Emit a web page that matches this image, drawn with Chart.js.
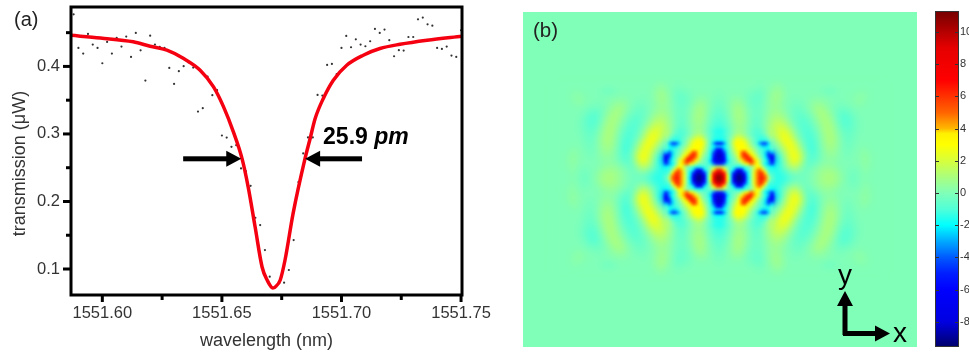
<!DOCTYPE html>
<html>
<head>
<meta charset="utf-8">
<title>transmission</title>
<script src="https://cdn.jsdelivr.net/npm/chart.js@4"></script>
<style>
html, body { margin: 0; padding: 0; background: #fff; overflow: hidden; }
#stage { position: relative; width: 969px; height: 354px; overflow: hidden; }
canvas { position: absolute; display: block; }
#chartA { left: 0; top: 0; }
#panel { position: absolute; left: 523px; top: 12px; width: 394px; height: 335px; background: #80ffb8; overflow: hidden; }
#fieldOuter { left: 0; top: 0; filter: blur(3px); }
#fieldCore { left: 0; top: 0; filter: blur(1.5px); }
#chartBar { left: 500px; top: 0; }
</style>
</head>
<body>
<div id="stage">
  <canvas id="chartA" width="500" height="354"></canvas>
  <div id="panel">
    <canvas id="fieldOuter" width="394" height="335"></canvas>
    <canvas id="fieldCore" width="394" height="335"></canvas>
  </div>
  <canvas id="chartBar" width="469" height="354"></canvas>
</div>
<script>
// panel (a): measured points, one every 2 pm
var wavelengths = [
  1551.588, 1551.590, 1551.592, 1551.594, 1551.596, 1551.598, 1551.600, 1551.602, 1551.604, 1551.606,
  1551.608, 1551.610, 1551.612, 1551.614, 1551.616, 1551.618, 1551.620, 1551.622, 1551.624, 1551.626,
  1551.628, 1551.630, 1551.632, 1551.634, 1551.636, 1551.638, 1551.640, 1551.642, 1551.644, 1551.646,
  1551.648, 1551.650, 1551.652, 1551.654, 1551.656, 1551.658, 1551.660, 1551.662, 1551.664, 1551.666,
  1551.668, 1551.670, 1551.672, 1551.674, 1551.676, 1551.678, 1551.680, 1551.682, 1551.684, 1551.686,
  1551.688, 1551.690, 1551.692, 1551.694, 1551.696, 1551.698, 1551.700, 1551.702, 1551.704, 1551.706,
  1551.708, 1551.710, 1551.712, 1551.714, 1551.716, 1551.718, 1551.720, 1551.722, 1551.724, 1551.726,
  1551.728, 1551.730, 1551.732, 1551.734, 1551.736, 1551.738, 1551.740, 1551.742, 1551.744, 1551.746,
  1551.748, 1551.750
];
var measured = [
  .4772, .4274, .4190, .4481, .4323, .4274, .4047, .4363, .4190, .4422,
  .4294, .4442, .4141, .4496, .4239, .3791, .4456, .4323, .4289, .4274,
  .3978, .3741, .3929, .4003, .4060, .3983, .3332, .3381, .3850, .3574,
  .3648, .2977, .2947, .2809, .2834, .2489, .2449, .2232, .1759, .1651,
  .1281, .0886, .0719, .0793, .0797, .0985, .1429, .2287, .2712, .2948,
  .2948, .3578, .3569, .4022, .4037, .3885, .4274, .4451, .4284, .4402,
  .4324, .4299, .4373, .4555, .4496, .4546, .4388, .4151, .4240, .4235,
  .4436, .4436, .4698, .4723, .4624, .4604, .4274, .4259, .4294, .4161,
  .4141, .4536
];

// panel (a): fitted curve
var fitWavelengths = [
  1551.5866, 1551.5992, 1551.6129, 1551.6200, 1551.6270, 1551.6340, 1551.6409, 1551.6465, 1551.6507, 1551.6548,
  1551.6584, 1551.6610, 1551.6639, 1551.6668, 1551.6689, 1551.6713, 1551.6723, 1551.6744, 1551.6764, 1551.6798,
  1551.6848, 1551.6869, 1551.6890, 1551.6924, 1551.6966, 1551.7022, 1551.7091, 1551.7161, 1551.7245, 1551.7358,
  1551.7504
];
var fitValues = [
  .4462, .4420, .4365, .4299, .4240, .4117, .3944, .3697, .3401, .3031,
  .2638, .2213, .1621, .1030, .0837, .0719, .0734, .0837, .1133, .1828,
  .2642, .2933, .3229, .3525, .3796, .4018, .4166, .4265, .4328, .4388,
  .4447
];

var xTickValues = [1551.60, 1551.625, 1551.65, 1551.675, 1551.70, 1551.725, 1551.75];
var yTickValues = [0.1, 0.15, 0.2, 0.25, 0.3, 0.35, 0.4, 0.45];
var barTickValues = [-8, -6, -4, -2, 0, 2, 4, 6, 8, 10];
var barRange = [-9.5, 11.24];

// panel (b): one quadrant of the field, the pattern mirrors about both axes.
// outer grid: columns every 6 units from 0 to 168, rows every 6 units from 0 to 96
var outerRows = [
  [11,8,-1.5,-8.5,-8.5,-2.5,2.5,6.5,5,-.8,-1.5,-1.5,-1,-.6,-.4,-.2,.1,.5,.9,1,.8,.3,-.1,-.4,-.1,.1,0,0,0],
  [9.5,7,-1.5,-8,-8,-2,2.5,6,3,-1.3,-1.5,-1.2,-.5,.2,-.2,-.3,.1,.5,.8,.9,.7,.2,-.1,-.3,-.1,.2,0,0,0],
  [1.5,1,-.8,-2,-2,-.8,1.5,3,-1,-2,-1.5,-.5,.8,1.5,.5,-.5,-.2,.2,.5,.5,.3,0,0,-.1,0,.3,.1,0,0],
  [-8,-6.5,-1,.3,3,6,4.5,1.5,-1.5,-5.5,-2,-.3,1.5,2.8,1.5,-.5,-.8,-.3,.2,.3,.2,0,0,0,.1,.4,.1,0,0],
  [-8.5,-5.5,-.5,1.5,5.5,5.5,2.5,-.2,-2.5,-5,-1.5,.2,2,3,1.8,-.3,-1,-.5,.2,.5,.4,0,-.2,0,.1,.4,.1,0,0],
  [-7,-4,0,2.5,3,2.5,.8,-.8,-1.5,-1,-.3,1,2.5,2.5,1,-.6,-1.2,-.5,.3,.8,.5,0,-.3,-.1,.1,.2,0,0,0],
  [-6,-3.5,.3,3,3,1.5,-.3,-3,-4.5,-.2,.3,2,3,2,.3,-.8,-1.2,-.4,.5,1,.7,0,-.4,-.2,0,0,0,0,0],
  [-1.5,-1.3,0,1.8,1.8,.5,-.6,-1.2,-.8,.8,1.5,2.8,2.5,1,-.3,-1,-1,-.3,.6,1.1,.7,-.1,-.5,-.3,0,0,0,0,0],
  [-1.5,-1.2,-.3,.6,.7,0,-.7,-.8,.2,1.2,1.8,2.5,1.8,.4,-.6,-1,-.8,-.1,.8,1.1,.5,-.3,-.6,-.4,-.1,0,0,0,0],
  [-1.3,-1,-.2,.6,.7,.1,-.6,-.6,.3,1.1,1.8,1.8,.9,-.1,-.8,-.9,-.5,.2,.9,1,.3,-.6,-.8,-.5,-.1,0,0,0,0],
  [-1,-.7,0,.8,.8,.2,-.5,-.5,.2,.9,1.3,1.1,.3,-.4,-.8,-.7,-.2,.5,1,.8,0,-.8,-.9,-.5,-.1,0,0,0,0],
  [-.8,-.5,.1,.9,.8,.1,-.4,-.4,.1,.7,.9,.6,0,-.5,-.6,-.4,.1,.8,1,.5,-.2,-.8,-.7,-.3,0,0,0,0,0],
  [-.6,-.3,.2,.9,.7,0,-.4,-.4,0,.5,.6,.3,-.1,-.4,-.4,-.1,.4,.9,.7,.2,-.2,-.4,-.3,-.1,0,0,0,0,0],
  [-.4,-.2,.2,.6,.4,-.2,-.5,-.5,0,.5,.7,.2,0,-.2,-.2,0,.3,.5,.3,.1,-.1,-.1,0,.1,.3,.1,0,0,0],
  [-.2,-.1,.1,.2,.1,-.2,-.5,-.6,-.1,.5,.8,.3,0,-.1,0,0,.1,.1,.1,0,0,0,0,.1,.3,.2,0,0,0],
  [-.1,0,0,0,0,-.1,-.2,-.4,-.1,.3,.7,.3,0,0,0,0,0,0,-.2,-.4,-.2,0,0,0,.1,.1,0,0,0],
  [0,0,0,0,0,0,0,-.1,0,.1,.3,.1,0,0,0,0,0,0,0,0,0,0,0,0,0,0,0,0,0]
];
// core grid: columns every 3 units from 0 to 54, rows every 3 units from 0 to 48
var coreRows = [
  [11,10.5,8,3,-1.5,-7,-8.5,-9.5,-8.5,-7,-2.5,0,2.5,4.5,6.5,6.5,5,2,-.8],
  [10.5,10,7.5,3,-1.5,-6.5,-8.5,-9,-8.5,-6.5,-2,0,2.5,4.5,6,6,4.5,1,-1],
  [9.5,8.5,6,1.5,-1.5,-4.5,-7.5,-8.5,-7.5,-4.5,-2,0,2.5,4.5,6,5.5,3,-.5,-1.3],
  [6.5,5.5,3.5,.5,-1,-2,-5,-6.5,-5,-2,-1,0,2,4,5,3.5,.5,-1.3,-1.5],
  [1.5,1.5,.8,0,-.8,-1.2,-1.5,-1.8,-1.5,-1.2,-.6,.3,1.5,3,3,1,-1,-1.5,-2],
  [-5,-5,-3.5,-1.5,-1,-.5,-.3,0,1,2.5,3.5,5,4,3,1.5,-.5,-2,-3,-4.5],
  [-8,-8,-6,-2.5,-1,-.3,.3,1.5,3,4.5,6,6.5,4.5,3,1.5,-.3,-1.5,-3,-5.5],
  [-8.5,-8,-5.5,-2,-.8,-.2,.8,2.5,4.5,6,6.5,5.5,3.5,2,.5,-.8,-2,-4,-6.5],
  [-8.5,-8,-5,-1.8,-.5,.3,1.5,3,5.5,6.5,5.5,3.5,2.5,1,-.2,-1,-2.5,-5,-5],
  [-8,-7,-4,-1.5,-.3,.8,2,3,5,5.5,3.5,2.5,1.5,.3,-.5,-1.2,-2.5,-4,-2.5],
  [-6,-5,-2.5,-1.3,0,1.3,2.5,3,3,3,2.5,1.8,.8,0,-.8,-1.2,-1.5,-1.8,-1],
  [-2.5,-2.5,-2,-1,.2,1.5,2.8,3,3,2.8,2,1,.2,-.5,-1.5,-2.5,-2.5,-1.8,-.5],
  [-5.5,-5.5,-3,-1,.3,1.8,3,3.2,3,2.5,1.5,.5,-.3,-1.2,-3,-4.5,-4.5,-2.5,-.2],
  [-2,-2,-1.5,-.8,.3,1.5,2.5,2.8,2.5,2,1,.3,-.5,-1,-1.5,-1.5,-1.5,-.8,.3],
  [-1.5,-1.5,-1.3,-.7,0,.8,1.8,2,1.8,1.2,.5,0,-.6,-1,-1.2,-1.2,-.8,0,.8],
  [-1.5,-1.5,-1.2,-.7,-.2,.4,1,1.2,1,.6,.1,-.4,-.8,-1,-1,-.8,-.2,.6,1.2],
  [-1.5,-1.5,-1.2,-.8,-.3,.2,.6,.8,.7,.4,0,-.4,-.7,-.9,-.8,-.4,.2,.8,1.2]
];

// colour bar stops: value, r, g, b
var colorStops = [
  [-9.5, 0, 0, 110], [-8, 0, 0, 225], [-6, 0, 0, 255], [-5, 0, 30, 255], [-4, 0, 90, 255], [-3, 0, 170, 255],
  [-2, 0, 255, 255], [-1, 80, 255, 215], [0, 128, 255, 184], [1, 170, 255, 125], [2, 215, 255, 60], [3, 255, 255, 0],
  [3.7, 255, 240, 0], [4, 255, 185, 0], [5, 255, 100, 0], [6, 255, 50, 0], [7, 255, 0, 0], [9, 230, 0, 0], [11.24, 120, 0, 0]
];

function colorOf(v) {
  var s = colorStops;
  if (v <= s[0][0]) return 'rgb(' + s[0][1] + ',' + s[0][2] + ',' + s[0][3] + ')';
  for (var i = 1; i < s.length; i++) {
    if (v <= s[i][0]) {
      var t = (v - s[i - 1][0]) / (s[i][0] - s[i - 1][0]);
      var r = s[i - 1][1] + t * (s[i][1] - s[i - 1][1]);
      var g = s[i - 1][2] + t * (s[i][2] - s[i - 1][2]);
      var b = s[i - 1][3] + t * (s[i][3] - s[i - 1][3]);
      return 'rgb(' + Math.round(r) + ',' + Math.round(g) + ',' + Math.round(b) + ')';
    }
  }
  return 'rgb(120,0,0)';
}

Chart.defaults.font.family = '"Liberation Sans", Arial, sans-serif';
Chart.defaults.animation = false;
Chart.defaults.plugins.legend.display = false;
Chart.defaults.plugins.tooltip.enabled = false;

function arrow(ctx, x1, y1, x2, y2) {
  var a = Math.atan2(y2 - y1, x2 - x1);
  var len = Math.sqrt((x2 - x1) * (x2 - x1) + (y2 - y1) * (y2 - y1));
  ctx.save();
  ctx.translate(x1, y1);
  ctx.rotate(a);
  ctx.fillStyle = '#000';
  ctx.fillRect(0, -2.5, len - 14, 5);
  ctx.beginPath();
  ctx.moveTo(len, 0);
  ctx.lineTo(len - 15, -8);
  ctx.lineTo(len - 15, 8);
  ctx.closePath();
  ctx.fill();
  ctx.restore();
}

var panelAMarks = {
  id: 'panelAMarks',
  afterDraw: function (chart) {
    var ctx = chart.ctx, area = chart.chartArea, x = chart.scales.x, y = chart.scales.y;
    ctx.save();
    ctx.strokeStyle = '#000';
    ctx.fillStyle = '#000';
    ctx.lineWidth = 3;
    xTickValues.forEach(function (v, i) {
      var p = x.getPixelForValue(v);
      ctx.beginPath();
      ctx.moveTo(p, area.bottom);
      ctx.lineTo(p, area.bottom + (i % 2 ? 5 : 7));
      ctx.stroke();
    });
    yTickValues.forEach(function (v, i) {
      var p = y.getPixelForValue(v);
      ctx.beginPath();
      ctx.moveTo(area.left, p);
      ctx.lineTo(area.left - (i % 2 ? 5 : 8), p);
      ctx.stroke();
    });
    ctx.strokeRect(area.left, area.top, area.right - area.left, area.bottom - area.top);

    // FWHM arrows and label
    var arrowY = y.getPixelForValue(0.2632);
    arrow(ctx, x.getPixelForValue(1551.6338), arrowY, x.getPixelForValue(1551.6581), arrowY);
    arrow(ctx, x.getPixelForValue(1551.7086), arrowY, x.getPixelForValue(1551.6848), arrowY);
    var tx = x.getPixelForValue(1551.6923), ty = y.getPixelForValue(0.2849);
    ctx.textBaseline = 'alphabetic';
    ctx.textAlign = 'left';
    ctx.font = 'bold 23px "Liberation Sans"';
    ctx.fillText('25.9 ', tx, ty);
    var w = ctx.measureText('25.9 ').width;
    ctx.font = 'italic bold 23px "Liberation Sans"';
    ctx.fillText('pm', tx + w, ty);

    ctx.fillStyle = '#222';
    ctx.font = '20px "Liberation Sans"';
    ctx.fillText('(a)', 14, 26);

    ctx.translate(20, 163.5);
    ctx.rotate(-Math.PI / 2);
    ctx.textAlign = 'center';
    ctx.textBaseline = 'middle';
    ctx.fillStyle = '#333';
    ctx.font = '18px "Liberation Sans"';
    ctx.fillText('transmission (\u03bcW)', 0, 0);
    ctx.restore();
  }
};

new Chart(document.getElementById('chartA').getContext('2d'), {
  type: 'scatter',
  plugins: [panelAMarks],
  data: {
    datasets: [{
      label: 'fit',
      order: 1,
      data: fitWavelengths.map(function (w, i) { return { x: w, y: fitValues[i] }; }),
      showLine: true,
      borderColor: '#f50010',
      borderWidth: 3.5,
      pointRadius: 0,
      cubicInterpolationMode: 'monotone'
    }, {
      label: 'measured',
      order: 2,
      data: wavelengths.map(function (w, i) { return { x: w, y: measured[i] }; }),
      backgroundColor: '#333',
      borderWidth: 0,
      pointRadius: 1.1
    }]
  },
  options: {
    responsive: false,
    layout: { padding: { top: 7, right: 38, left: 0, bottom: 0 } },
    scales: {
      x: {
        type: 'linear',
        min: 1551.5869,
        max: 1551.7504,
        afterBuildTicks: function (s) { s.ticks = xTickValues.map(function (v) { return { value: v }; }); },
        afterFit: function (s) { s.height = 59; s.paddingLeft = 0; s.paddingRight = 0; },
        grid: { display: false, drawTicks: false },
        border: { display: false },
        ticks: {
          autoSkip: false,
          maxRotation: 0,
          padding: 9,
          color: '#333',
          font: { size: 16.5 },
          callback: function (v, i) { return i % 2 ? '' : Number(v).toFixed(2); }
        },
        title: { display: true, text: 'wavelength (nm)', color: '#333', font: { size: 18 }, padding: { top: 0, bottom: 2 } }
      },
      y: {
        min: 0.0615,
        max: 0.488,
        afterBuildTicks: function (s) { s.ticks = yTickValues.map(function (v) { return { value: v }; }); },
        afterFit: function (s) { s.width = 71; s.paddingTop = 0; s.paddingBottom = 0; },
        grid: { display: false, drawTicks: false },
        border: { display: false },
        ticks: {
          autoSkip: false,
          padding: 11,
          color: '#333',
          font: { size: 16.5 },
          callback: function (v, i) { return i % 2 ? '' : Number(v).toFixed(1); }
        }
      }
    }
  }
});

// the mirrored quadrant cells of one grid
function fieldCells(rows, step) {
  var cells = [];
  rows.forEach(function (row, r) {
    row.forEach(function (v, c) {
      [1, -1].forEach(function (sx) {
        [1, -1].forEach(function (sy) {
          if (c === 0 && sx < 0) return;
          if (r === 0 && sy < 0) return;
          cells.push({ x: sx * c * step, y: sy * r * step, v: v });
        });
      });
    });
  });
  return cells;
}

function fieldChart(id, rows, step) {
  new Chart(document.getElementById(id).getContext('2d'), {
    type: 'scatter',
    data: {
      datasets: [{
        label: 'field',
        data: fieldCells(rows, step),
        pointStyle: 'rect',
        pointRadius: (step + 0.8) / Math.SQRT2,
        borderWidth: 0,
        pointBackgroundColor: function (c) { return c.raw ? colorOf(c.raw.v) : '#80ffb8'; }
      }]
    },
    options: {
      responsive: false,
      layout: { padding: 0 },
      scales: {
        x: { display: false, min: -196, max: 198 },
        y: { display: false, min: -169, max: 166 }
      }
    }
  });
}
fieldChart('fieldOuter', outerRows, 6);
fieldChart('fieldCore', coreRows, 3);

var overlayMarks = {
  id: 'overlayMarks',
  afterDraw: function (chart) {
    var ctx = chart.ctx, area = chart.chartArea, y = chart.scales.y;
    ctx.save();
    ctx.strokeStyle = '#333';
    ctx.lineWidth = 1;
    barTickValues.forEach(function (v) {
      var p = Math.round(y.getPixelForValue(v)) + 0.5;
      ctx.beginPath();
      ctx.moveTo(area.left, p);
      ctx.lineTo(area.left + 3, p);
      ctx.moveTo(area.right, p);
      ctx.lineTo(area.right - 3, p);
      ctx.stroke();
    });
    ctx.strokeRect(area.left - 0.5, area.top - 0.5, area.right - area.left + 1, area.bottom - area.top + 1);

    ctx.fillStyle = '#222';
    ctx.font = '20.5px "Liberation Sans"';
    ctx.textBaseline = 'alphabetic';
    ctx.fillText('(b)', 33, 37);

    // x / y direction arrows, canvas starts at 500
    arrow(ctx, 345, 335, 345, 291);
    arrow(ctx, 343, 333.5, 390, 333.5);
    ctx.fillStyle = '#000';
    ctx.font = '28px "Liberation Sans"';
    ctx.textAlign = 'center';
    ctx.fillText('y', 345, 284);
    ctx.fillText('x', 400, 342);
    ctx.restore();
  }
};

// colour bar: one floating bar filled with the colour ramp
function barGradient(c) {
  var chart = c.chart, y = chart.scales.y;
  if (!chart.chartArea) return '#000';
  var y0 = y.getPixelForValue(barRange[0]), y1 = y.getPixelForValue(barRange[1]);
  var g = chart.ctx.createLinearGradient(0, y0, 0, y1);
  colorStops.forEach(function (s) {
    g.addColorStop((s[0] - barRange[0]) / (barRange[1] - barRange[0]), colorOf(s[0]));
  });
  return g;
}

new Chart(document.getElementById('chartBar').getContext('2d'), {
  type: 'bar',
  plugins: [overlayMarks],
  data: {
    labels: [''],
    datasets: [{
      label: 'field',
      data: [barRange],
      backgroundColor: barGradient,
      borderWidth: 0,
      barPercentage: 1,
      categoryPercentage: 1
    }]
  },
  options: {
    responsive: false,
    layout: { padding: { left: 436, right: 0, top: 12, bottom: 8 } },
    scales: {
      x: { display: false },
      y: {
        position: 'right',
        min: barRange[0],
        max: barRange[1],
        afterBuildTicks: function (s) { s.ticks = barTickValues.map(function (v) { return { value: v }; }); },
        afterFit: function (s) { s.width = 11; s.paddingTop = 0; s.paddingBottom = 0; },
        grid: { display: false, drawTicks: false },
        border: { display: false },
        ticks: { autoSkip: false, padding: 2, color: '#333', font: { size: 11 } }
      }
    }
  }
});
</script>
</body>
</html>
